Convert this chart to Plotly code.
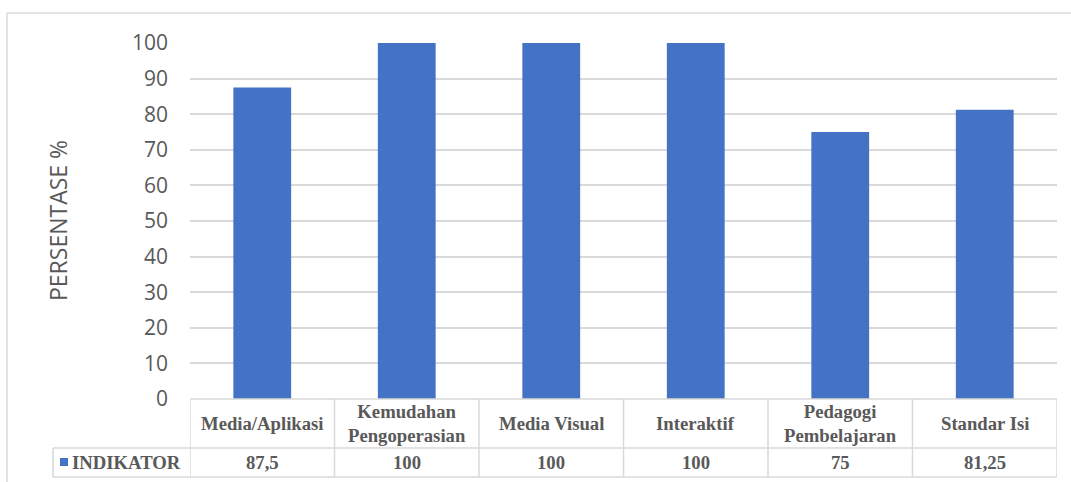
import plotly.graph_objects as go

categories = ["Media/Aplikasi", "Kemudahan Pengoperasian", "Media Visual",
              "Interaktif", "Pedagogi Pembelajaran", "Standar Isi"]
header_labels = ["Media/Aplikasi", "Kemudahan<br>Pengoperasian", "Media Visual",
                 "Interaktif", "Pedagogi<br>Pembelajaran", "Standar Isi"]
values = [87.5, 100, 100, 100, 75, 81.25]
series_name = "INDIKATOR"
y_ticks = [0, 10, 20, 30, 40, 50, 60, 70, 80, 90, 100]
y_title = "PERSENTASE %"

W, H = 1071, 482
BAR = "#4472C4"
GRID = "#d9d9d9"
TXT = "#595959"

def px(x):
    return x / W

def py(y):
    return 1 - y / H

def fmt(v):
    if float(v).is_integer():
        return str(int(v))
    return str(v).replace(".", ",")

plot_l, plot_r, plot_t, plot_b = 190, 1057, 43, 399
row1_b, row2_b = 448, 477
legend_l = 53

fig = go.Figure()
fig.add_trace(go.Bar(x=categories, y=values, name=series_name,
                     marker=dict(color=BAR, line=dict(width=0)), width=0.4,
                     showlegend=False))

shapes = []
# outer chart border
shapes.append(dict(type="line", xref="paper", yref="paper", x0=px(7), x1=1.0,
                   y0=py(13), y1=py(13), line=dict(color=GRID, width=1.5)))
shapes.append(dict(type="line", xref="paper", yref="paper", x0=px(7), x1=px(7),
                   y0=py(13), y1=0, line=dict(color=GRID, width=1.5)))
# table horizontal lines
shapes.append(dict(type="line", xref="paper", yref="paper", x0=px(plot_l), x1=px(plot_r),
                   y0=py(plot_b), y1=py(plot_b), line=dict(color=GRID, width=1.5)))
for yy in (row1_b, row2_b):
    shapes.append(dict(type="line", xref="paper", yref="paper", x0=px(legend_l), x1=px(plot_r),
                       y0=py(yy), y1=py(yy), line=dict(color=GRID, width=1.5)))
# table vertical lines
shapes.append(dict(type="line", xref="paper", yref="paper", x0=px(legend_l), x1=px(legend_l),
                   y0=py(row1_b), y1=py(row2_b), line=dict(color=GRID, width=1.5)))
for i in range(len(categories) + 1):
    shapes.append(dict(type="line", xref="x", yref="paper", x0=i - 0.5, x1=i - 0.5,
                       y0=py(plot_b), y1=py(row2_b), line=dict(color=GRID, width=1.5)))
# legend key square
shapes.append(dict(type="rect", xref="paper", yref="paper", x0=px(60), x1=px(68),
                   y0=py(458), y1=py(466), fillcolor=BAR, line=dict(width=0)))

annotations = []
tfont = dict(family="Liberation Serif", size=18.7, color=TXT)
for i, cat in enumerate(categories):
    annotations.append(dict(x=cat, xref="x", y=py((plot_b + row1_b) / 2), yref="paper",
                            text="<b>" + header_labels[i] + "</b>", showarrow=False,
                            font=tfont, xanchor="center", yanchor="middle"))
    annotations.append(dict(x=cat, xref="x", y=py((row1_b + row2_b) / 2), yref="paper",
                            text="<b>" + fmt(values[i]) + "</b>", showarrow=False,
                            font=tfont, xanchor="center", yanchor="middle"))
annotations.append(dict(x=px(70), xref="paper", y=py((row1_b + row2_b) / 2), yref="paper",
                        text="<b>" + series_name + "</b>", showarrow=False,
                        font=tfont, xanchor="left", yanchor="middle"))
annotations.append(dict(x=px(58), xref="paper", y=py((plot_t + plot_b) / 2), yref="paper",
                        text=y_title, textangle=-90, showarrow=False,
                        font=dict(family="Open Sans", size=23, color=TXT),
                        xanchor="center", yanchor="middle"))

fig.update_layout(
    width=W, height=H,
    margin=dict(l=0, r=0, t=0, b=0, pad=0, autoexpand=False),
    paper_bgcolor="white", plot_bgcolor="white",
    shapes=shapes, annotations=annotations,
    bargap=0.6,
    xaxis=dict(domain=[px(plot_l), px(plot_r)], range=[-0.5, len(categories) - 0.5],
               showticklabels=False, showgrid=False, zeroline=False, showline=False,
               ticks="", fixedrange=True, automargin=False),
    yaxis=dict(domain=[py(plot_b), py(plot_t)], range=[0, 100], tickvals=y_ticks,
               showgrid=True, gridcolor=GRID, gridwidth=1.5, zeroline=False,
               showline=False, ticks="", ticklabelstandoff=21, automargin=False,
               tickfont=dict(family="Open Sans", size=21, color=TXT), fixedrange=True),
)

fig.write_html("out.html")
